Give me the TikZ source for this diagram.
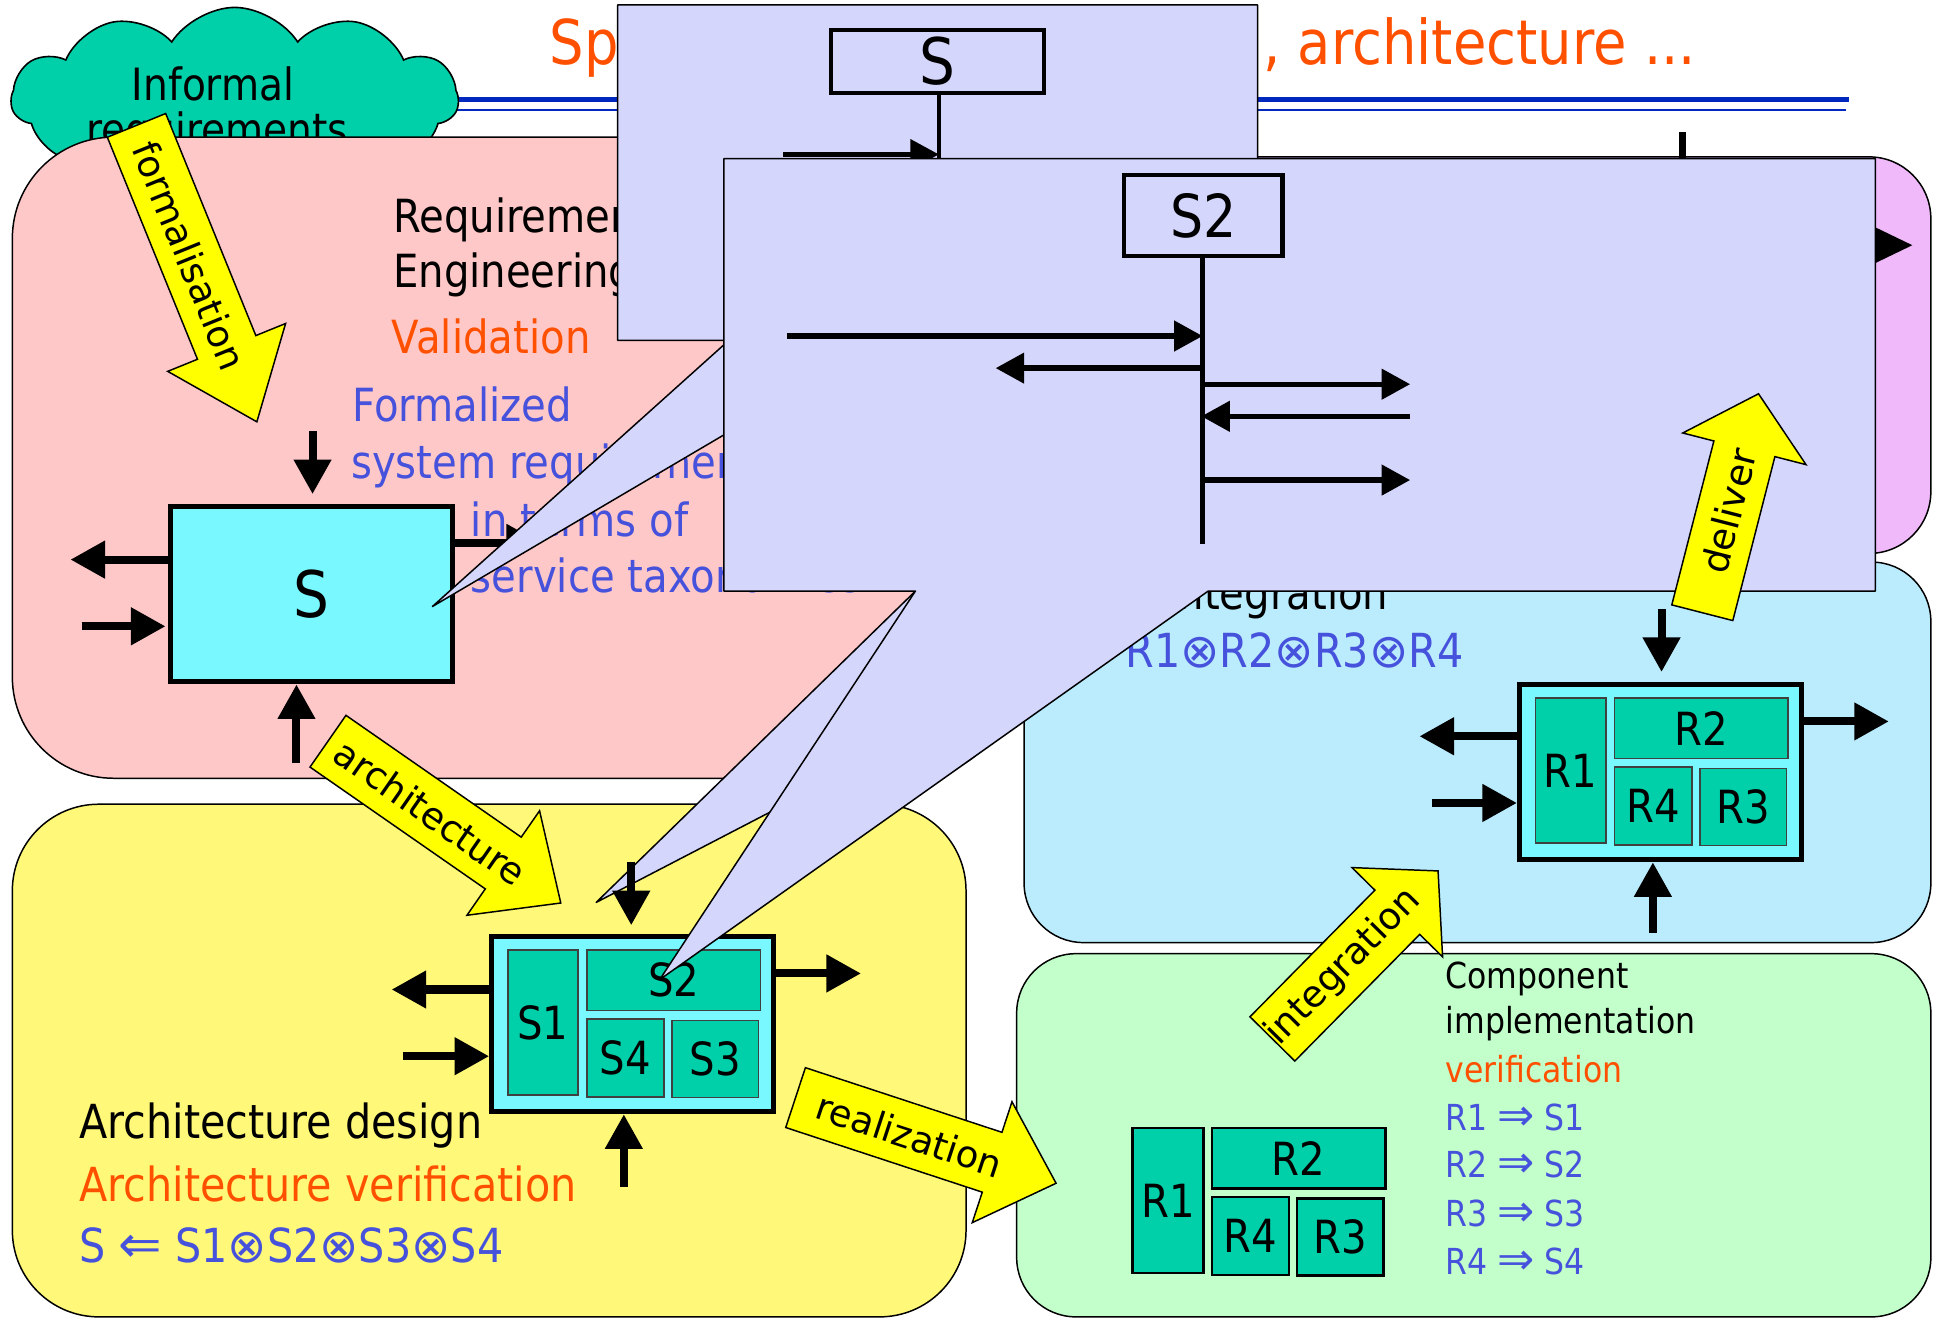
\documentclass[tikz,border=0pt]{standalone}
\usepackage{fontspec}
\setmainfont{DejaVu Sans}[FakeStretch=0.88]
\newfontfamily\arrowfont{DejaVu Sans}
\usetikzlibrary{arrows.meta,shapes.symbols}

\definecolor{pinkbg}{RGB}{255,200,200}
\definecolor{yellowbg}{RGB}{255,248,120}
\definecolor{bluebg}{RGB}{186,236,254}
\definecolor{greenbg}{RGB}{194,255,202}
\definecolor{magentabg}{RGB}{240,186,250}
\definecolor{lavender}{RGB}{213,214,252}
\definecolor{tealblock}{RGB}{0,208,170}
\definecolor{cyanbox}{RGB}{122,248,255}
\definecolor{hiorange}{RGB}{255,80,0}
\definecolor{textblue}{RGB}{70,82,220}
\definecolor{ruleblue}{RGB}{0,40,190}
\definecolor{arrowyellow}{RGB}{255,255,0}

% operators set in the unstretched face
\newcommand{\tensor}{{\arrowfont ⊗}}
\newcommand{\refinedby}[1]{{\arrowfont\fontsize{#1}{#1}\selectfont ⇐}}
\newcommand{\implements}[1]{{\arrowfont\fontsize{#1}{#1}\selectfont ⇒}}

% yellow block arrow: label name, tail centre, angle, length, head length, label offset, label
\newcommand{\blockarrow}[7]{%
  \begin{scope}[shift={#2}, rotate=#3]
    \draw[yshape] (0,-25.5) -- ({#4-#5},-25.5) -- ({#4-#5},-51.5) -- (#4,0)
      -- ({#4-#5},51.5) -- ({#4-#5},25.5) -- (0,25.5) -- cycle;
    \node[arrowlabel, rotate=#3] (#1) at (#6,0) {#7};
  \end{scope}}

% four sub-components laid out inside a system block
\newcommand{\fourblocks}[4]{%
  \begin{scope}[shift={#2}]
    \node[#4, minimum width=57pt, minimum height=117.5pt] (#1a) at (-72.5,-1.25) {#31};
    \node[#4, minimum width=140.5pt, minimum height=49pt] (#1b) at (33.25,-35.5) {#32};
    \node[#4, minimum width=62.5pt, minimum height=63pt] (#1d) at (-5.75,27.5) {#34};
    \node[#4, minimum width=70pt, minimum height=62.5pt] (#1c) at (67,28.25) {#33};
  \end{scope}}

\begin{document}
\begin{tikzpicture}[x=1pt,y=-1pt,
  stage/.style={draw=black, line width=1.2pt, inner sep=0pt},
  sysbox/.style={draw=black, line width=4pt, fill=cyanbox, minimum width=228pt,
    minimum height=142pt, inner sep=0pt},
  blockS/.style={draw=black!75, line width=1.3pt, fill=tealblock, inner sep=0pt,
    font=\fontsize{37}{44}\selectfont},
  blockG/.style={blockS, draw=black, line width=2.2pt},
  io/.style={line width=6.5pt, -{Triangle[length=28pt,width=29pt]}},
  msg/.style={line width=4.3pt, -{Triangle[length=23pt,width=24pt]}},
  lifeline/.style={line width=3.5pt},
  callout/.style={draw=black, line width=1.2pt, fill=lavender, line join=round},
  yshape/.style={draw=black, line width=1.2pt, fill=arrowyellow, line join=miter},
  arrowlabel/.style={inner sep=0pt, font=\arrowfont\fontsize{30}{36}\selectfont},
  txt/.style={inner sep=0pt, anchor=base west},
  big/.style={font=\fontsize{37}{44}\selectfont},
  small/.style={font=\fontsize{29}{34}\selectfont}
]
\useasboundingbox (0,0) rectangle (1568,1067);
\fill[white] (0,0) rectangle (1568,1067);

% title and rules
\node[txt, text=hiorange, font=\fontsize{50}{60}\selectfont] (titleA) at (445,52.6) {Sp};
\node[inner sep=0pt, anchor=base east, text=hiorange, font=\fontsize{50}{60}\selectfont]
  (titleB) at (1373,52.6) {, architecture ...};
\draw[ruleblue, line width=4pt] (340,80.5) -- (1497,80.5);
\draw[ruleblue, line width=1.4pt] (340,89.2) -- (1494,89.2);

% informal requirements cloud
\node[cloud, cloud puffs=11, cloud puff arc=115, aspect=2.6, draw=black, line width=1.3pt,
  fill=tealblock, minimum width=362pt, minimum height=148pt, inner sep=0pt] (cloud) at (190,80) {};
\node[inner sep=0pt, anchor=base, font=\fontsize{36}{44}\selectfont] (cloudA) at (172.5,81) {Informal};
\node[inner sep=0pt, anchor=base, font=\fontsize{36}{44}\selectfont] (cloudB) at (176,118) {requirements};

% requirements engineering stage
\node[stage, fill=pinkbg, minimum width=810pt, minimum height=519pt, rounded corners=82pt]
  (reqstage) at (415,370.5) {};
\node[txt, big] (reqA) at (318,188) {Requirements};
\node[txt, big] (reqB) at (318,233) {Engineering};
\node[txt, big, text=hiorange] (reqC) at (317,286) {Validation};
\node[txt, big, text=textblue] (reqD) at (285,341) {Formalized};
\node[txt, big, text=textblue] (reqE) at (284,387) {system requirements};
\node[txt, big, text=textblue] (reqF) at (381,434.5) {in terms of};
\node[txt, big, text=textblue] (reqG) at (381,480) {service taxonomies};

\blockarrow{formal}{(110.5,101.5)}{-67.9}{259}{65}{114}{formalisation}

% other stages
\node[stage, fill=yellowbg, minimum width=772pt, minimum height=415pt, rounded corners=70pt]
  (archstage) at (396,858.5) {};
\node[stage, fill=magentabg, minimum width=733pt, minimum height=321pt, rounded corners=50pt]
  (sysstage) at (1196.5,287.5) {};
\node[stage, fill=bluebg, minimum width=734pt, minimum height=308pt, rounded corners=48pt]
  (intstage) at (1196,609) {};
\node[stage, fill=greenbg, minimum width=740pt, minimum height=294pt, rounded corners=48pt]
  (compstage) at (1193,919) {};

\node[txt, font=\fontsize{38}{44}\selectfont] (archA) at (64,922) {Architecture design};
\node[txt, text=hiorange, font=\fontsize{38}{44}\selectfont] (archB) at (64,973) {Architecture verification};
\node[txt, text=textblue, font=\fontsize{38}{44}\selectfont] (archC) at (64,1021.6)
  {S \refinedby{42} S1\tensor S2\tensor S3\tensor S4};

\node[inner sep=0pt, anchor=base east, big] (intA) at (1124,493) {Integration};
\node[txt, text=textblue, font=\fontsize{38}{44}\selectfont] (intB) at (911,540)
  {R1\tensor R2\tensor R3\tensor R4};

\node[txt, small] (compA) at (1170,800) {Component};
\node[txt, small] (compB) at (1170,836.5) {implementation};
\node[txt, small, text=hiorange] (compC) at (1170,876.5) {verification};
\node[txt, small, text=textblue] (compD) at (1170,915) {R1 \implements{36} S1};
\node[txt, small, text=textblue] (compE) at (1170,953.5) {R2 \implements{36} S2};
\node[txt, small, text=textblue] (compF) at (1170,992.6) {R3 \implements{36} S3};
\node[txt, small, text=textblue] (compG) at (1170,1032) {R4 \implements{36} S4};

% callout pointer lying under the architecture arrows
\draw[callout] (741,478.5) -- (968,478.5) -- (482.6,730.5) -- cycle;

% formalized system S
\node[sysbox] (bigS) at (252,481) {};
\node[inner sep=0pt, font=\fontsize{52}{60}\selectfont] (bigSlabel) at (bigS) {S};
\coordinate (sTopIn) at (253,349);
\coordinate (sLeftOut) at (57,453);
\coordinate (sLeftIn) at (66,507);
\coordinate (sBotIn) at (240,618);
\coordinate (sRightOut) at (438,439.5);
\draw[io, shorten >=8pt] (sTopIn) -- (sTopIn |- bigS.north);
\draw[io] (bigS.west |- sLeftOut) -- (sLeftOut);
\draw[io, shorten >=2pt] (sLeftIn) -- (sLeftIn -| bigS.west);
\draw[io] (sBotIn) -- (sBotIn |- bigS.south);
\draw[io] (bigS.east |- sRightOut) -- (sRightOut);

% architecture S1..S4
\node[sysbox] (archS) at (512,829) {};
\fourblocks{arch}{(512,829)}{S}{blockS}
\coordinate (aTopIn) at (511,697.5);
\coordinate (aLeftOut) at (317,801);
\coordinate (aLeftIn) at (326,855);
\coordinate (aRightOut) at (697,788);
\coordinate (aBotIn) at (505,961);
\draw[io, shorten >=7pt] (aTopIn) -- (aTopIn |- archS.north);
\draw[io] (archS.west |- aLeftOut) -- (aLeftOut);
\draw[io] (aLeftIn) -- (aLeftIn -| archS.west);
\draw[io] (archS.east |- aRightOut) -- (aRightOut);
\draw[io] (aBotIn) -- (aBotIn |- archS.south);

% integrated R1..R4
\node[sysbox] (rBox) at (1344,625) {};
\fourblocks{int}{(1344,625)}{R}{blockS}
\coordinate (rTopIn) at (1345,493);
\coordinate (rLeftOut) at (1149,596);
\coordinate (rLeftIn) at (1159,650);
\coordinate (rRightOut) at (1529,584);
\coordinate (rBotIn) at (1338,755);
\draw[io, shorten >=8pt] (rTopIn) -- (rTopIn |- rBox.north);
\draw[io] (rBox.west |- rLeftOut) -- (rLeftOut);
\draw[io] (rLeftIn) -- (rLeftIn -| rBox.west);
\draw[io] (rBox.east |- rRightOut) -- (rRightOut);
\draw[io] (rBotIn) -- (rBotIn |- rBox.south);

% components R1..R4
\fourblocks{comp}{(1018,973)}{R}{blockG}

\blockarrow{archlbl}{(265.5,600)}{-34.8}{229.5}{56.7}{101}{architecture}
\blockarrow{reallbl}{(644,888.5)}{-18.2}{222}{54.5}{97}{realization}
\blockarrow{intlbl}{(1030,841)}{45.4}{191}{47}{82}{integration}

% system stage stubs
\fill (1518,184) -- (1548,198.5) -- (1518,213) -- cycle;
\draw[line width=5pt] (1362,107) -- (1362,130);

% callout with the S interface
\draw[callout] (500,4) -- (1018,4) -- (1018,275.5) -- (716,275.5) -- (350,491)
  -- (590,275.5) -- (500,275.5) -- cycle;
\node[draw, line width=3.5pt, minimum width=172.5pt, minimum height=51pt, inner sep=0pt,
  font=\fontsize{52}{60}\selectfont] (sbox) at (759,49.7) {S};
\coordinate (slife) at (760,132);
\draw[lifeline] (sbox.south -| slife) -- (slife);
\coordinate (sm1) at (634,125);
\draw[msg, line width=3.5pt] (sm1) -- (sm1 -| slife);

% callout with the S2 sequence
\draw[callout] (586,128.5) -- (1518,128.5) -- (1518,478.5) -- (978,478.5) -- (534,793)
  -- (741,478.5) -- (586,478.5) -- cycle;
\node[draw, line width=3.5pt, minimum width=128.5pt, minimum height=65.5pt, inner sep=0pt,
  font=\fontsize{48}{56}\selectfont] (s2box) at (974,174.5) {S2};
\coordinate (s2end) at (973.5,440);
\draw[lifeline] (s2box.south -| s2end) -- (s2end);
\coordinate (m1) at (637,272);
\coordinate (m2) at (806,298);
\coordinate (m3) at (1141.5,311);
\coordinate (m4) at (1141.5,337);
\coordinate (m5) at (1141.5,388.6);
\draw[msg] (m1) -- (m1 -| s2end);
\draw[msg] (m2 -| s2end) -- (m2);
\draw[msg] (m3 -| s2end) -- (m3);
\draw[msg, shorten >=-1pt] (m4) -- (m4 -| s2end);
\draw[msg] (m5 -| s2end) -- (m5);

\blockarrow{deliverlbl}{(1378,496)}{75.6}{183}{46}{85}{deliver}
\end{tikzpicture}
\end{document}
